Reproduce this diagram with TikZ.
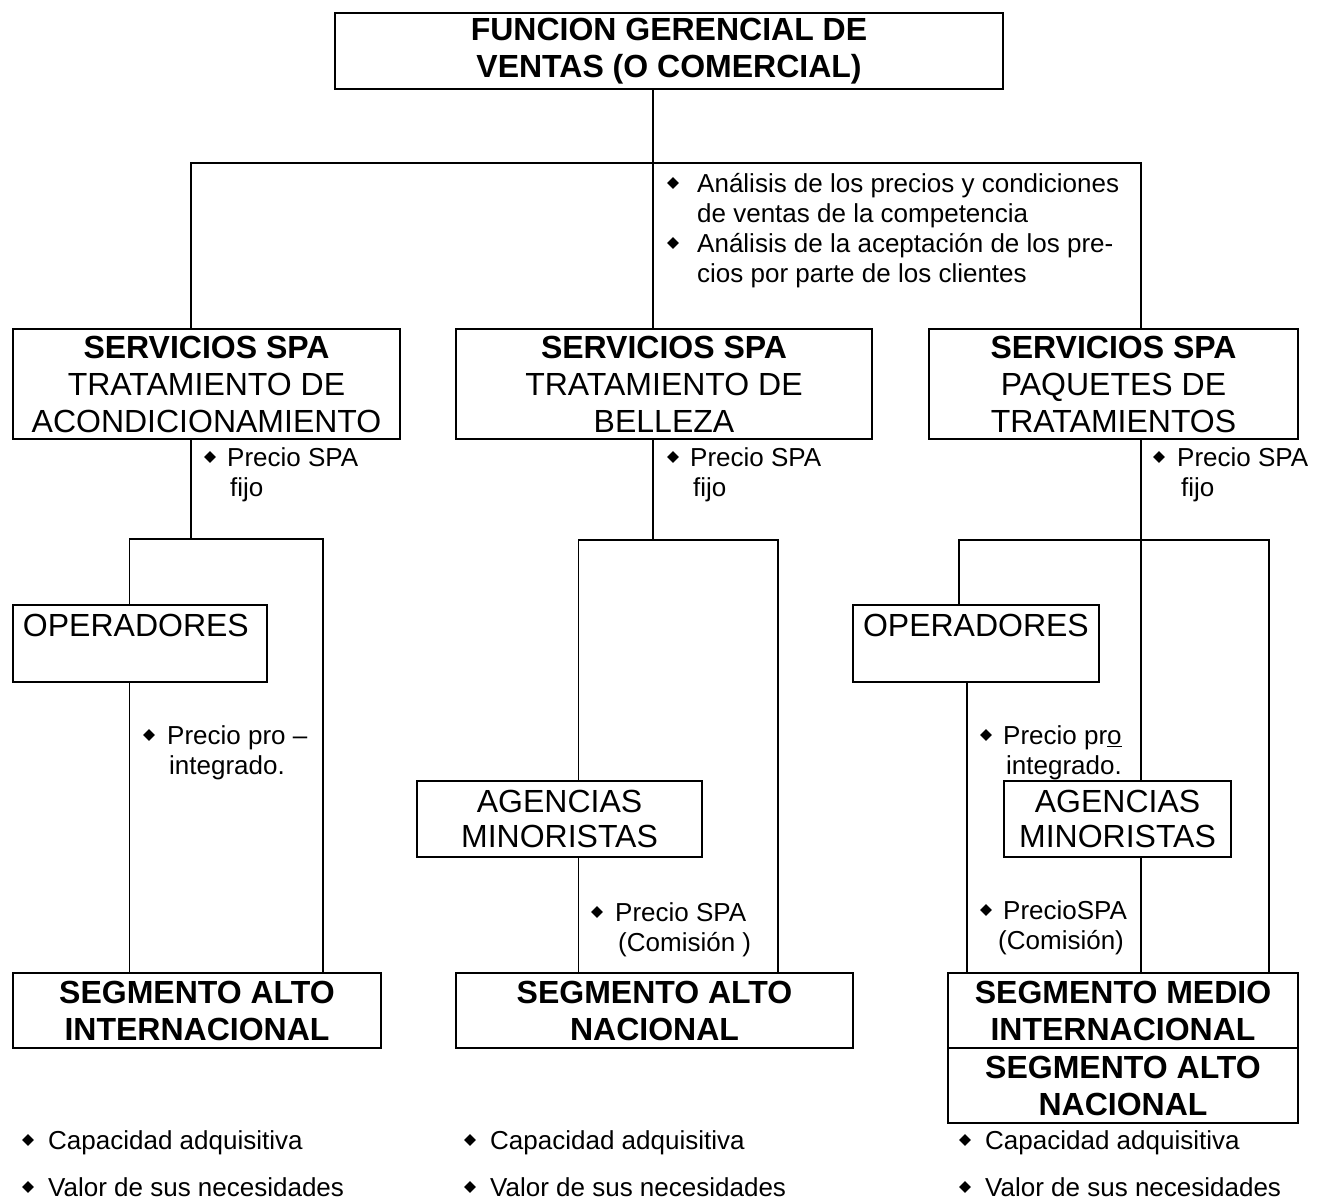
\documentclass[tikz,border=0pt]{standalone}
\usepackage{fontspec}
\setmainfont{Liberation Sans}
\usetikzlibrary{shapes.geometric}
\newcommand\bigtxt{\fontsize{32}{37}\selectfont}
\newcommand\midtxt{\fontsize{32}{35}\selectfont}
\newcommand\smtxt{\fontsize{26}{30}\selectfont}
\begin{document}
\begin{tikzpicture}[x=1pt,y=-1pt,
  box/.style={draw, line width=1.6pt, inner sep=0pt, align=center, font=\bigtxt},
  boldbox/.style={box, font=\bigtxt\bfseries},
  textbox/.style={box, align=left, inner xsep=10pt},
  conn/.style={line width=1.6pt},
  bul/.style={diamond, fill=black, inner sep=0pt, minimum width=12pt, minimum height=12pt},
  lbl/.style={anchor=base west, inner sep=0pt, font=\smtxt}]
\useasboundingbox (0,0) rectangle (1319,1201);

% ---------- boxes ----------
\node[boldbox, minimum width=668pt, minimum height=76pt] (top) at (669,51)
  {FUNCION GERENCIAL DE\\VENTAS (O COMERCIAL)};

\node[box, minimum width=387pt, minimum height=110pt] (s1) at (206.5,384)
  {{\bfseries SERVICIOS SPA}\\TRATAMIENTO DE\\ACONDICIONAMIENTO};
\node[box, minimum width=416pt, minimum height=110pt] (s2) at (664,384)
  {{\bfseries SERVICIOS SPA}\\TRATAMIENTO DE\\BELLEZA};
\node[box, minimum width=369pt, minimum height=110pt] (s3) at (1113.5,384)
  {{\bfseries SERVICIOS SPA}\\PAQUETES DE\\TRATAMIENTOS};

\node[textbox, text width=234pt, minimum height=77pt] (op1) at (140,643.5)
  {OPERADORES\\\mbox{}};
\node[textbox, text width=226pt, minimum height=77pt] (op3) at (976,643.5)
  {OPERADORES\\\mbox{}};

\node[box, font=\midtxt, minimum width=285pt, minimum height=76pt] (ag2) at (559.5,819)
  {AGENCIAS\\MINORISTAS};
\node[box, font=\midtxt, minimum width=227pt, minimum height=76pt] (ag3) at (1117.5,819)
  {AGENCIAS\\MINORISTAS};

\node[boldbox, minimum width=368pt, minimum height=75pt] (seg1) at (197,1010.5)
  {SEGMENTO ALTO\\INTERNACIONAL};
\node[boldbox, minimum width=397pt, minimum height=75pt] (seg2) at (654.5,1010.5)
  {SEGMENTO ALTO\\NACIONAL};
\node[boldbox, minimum width=350pt, minimum height=75pt] (seg3a) at (1123,1010.5)
  {SEGMENTO MEDIO\\INTERNACIONAL};
\node[boldbox, minimum width=350pt, minimum height=75pt] (seg3b) at (1123,1085.5)
  {SEGMENTO ALTO\\NACIONAL};

% ---------- junctions ----------
\coordinate (jt) at (653,163);
\coordinate (jl) at (191,163);
\coordinate (jr) at (1141,163);
\coordinate (c1) at (191,539);
\coordinate (c1l) at (129.5,539);
\coordinate (c1r) at (323,539);
\coordinate (c2) at (653,540);
\coordinate (c2l) at (578.5,540);
\coordinate (c2r) at (778,540);
\coordinate (c3) at (1141,540);
\coordinate (c3l) at (959,540);
\coordinate (c3r) at (1269,540);
\coordinate (k3) at (967,682);

% ---------- connectors ----------
\draw[conn] (top.south -| jt) -- (jt);
\draw[conn] (s1.north -| jl) -- (jl) -- (jr) -- (s3.north -| jr);
\draw[conn] (jt) -- (s2.north -| jt);

\draw[conn] (s1.south -| c1) -- (c1);
\draw[conn] (op1.north -| c1l) -- (c1l) -- (c1r) -- (seg1.north -| c1r);
\draw[conn] (op1.south -| c1l) -- (seg1.north -| c1l);

\draw[conn] (s2.south -| c2) -- (c2);
\draw[conn] (ag2.north -| c2l) -- (c2l) -- (c2r) -- (seg2.north -| c2r);
\draw[conn] (ag2.south -| c2l) -- (seg2.north -| c2l);

\draw[conn] (s3.south -| c3) -- (c3);
\draw[conn] (op3.north -| c3l) -- (c3l) -- (c3r) -- (seg3a.north -| c3r);
\draw[conn] (c3) -- (ag3.north -| c3);
\draw[conn] (ag3.south -| c3) -- (seg3a.north -| c3);
\draw[conn] (op3.south -| k3) -- (seg3a.north -| k3);

% ---------- bullet notes ----------
\node[bul] (ba1) at (673,183) {};
\node[lbl] (ta1) at (697,192.3) {Análisis de los precios y condiciones};
\node[lbl] (ta2) at (697,222.3) {de ventas de la competencia};
\node[bul] (ba2) at (673,243) {};
\node[lbl] (ta3) at (697,252.3) {Análisis de la aceptación de los pre-};
\node[lbl] (ta4) at (697,282.3) {cios por parte de los clientes};

\node[bul] (bf1) at (210,457) {};
\node[lbl] (tf1a) at (227,466.3) {Precio SPA};
\node[lbl] (tf1b) at (230,496.3) {fijo};
\node[bul] (bf2) at (673,457) {};
\node[lbl] (tf2a) at (690,466.3) {Precio SPA};
\node[lbl] (tf2b) at (693,496.3) {fijo};
\node[bul] (bf3) at (1159,457) {};
\node[lbl] (tf3a) at (1177,466.3) {Precio SPA};
\node[lbl] (tf3b) at (1181,496.3) {fijo};

\node[bul] (bp1) at (149,735) {};
\node[lbl] (tp1a) at (167,744.3) {Precio pro –};
\node[lbl] (tp1b) at (169,774.3) {integrado.};
\node[bul] (bp3) at (986,735) {};
\node[lbl] (tp3a) at (1003,744.3) {Precio pr\underline{o}};
\node[lbl] (tp3b) at (1006,774.3) {integrado.};

\node[bul] (bc2) at (597,912) {};
\node[lbl] (tc2a) at (615,921.3) {Precio SPA};
\node[lbl] (tc2b) at (618,951.3) {(Comisión )};
\node[bul] (bc3) at (986,910) {};
\node[lbl] (tc3a) at (1003,919.3) {PrecioSPA};
\node[lbl] (tc3b) at (998,949.3) {(Comisión)};

% ---------- segment criteria ----------
\node[bul] (bk1) at (28,1140) {};
\node[lbl] (tk1) at (48,1149.3) {Capacidad adquisitiva};
\node[bul] (bv1) at (28,1187) {};
\node[lbl] (tv1) at (48,1196.3) {Valor de sus necesidades};
\node[bul] (bk2) at (470,1140) {};
\node[lbl] (tk2) at (490,1149.3) {Capacidad adquisitiva};
\node[bul] (bv2) at (470,1187) {};
\node[lbl] (tv2) at (490,1196.3) {Valor de sus necesidades};
\node[bul] (bk3) at (965,1140) {};
\node[lbl] (tk3) at (985,1149.3) {Capacidad adquisitiva};
\node[bul] (bv3) at (965,1187) {};
\node[lbl] (tv3) at (985,1196.3) {Valor de sus necesidades};
\end{tikzpicture}
\end{document}
